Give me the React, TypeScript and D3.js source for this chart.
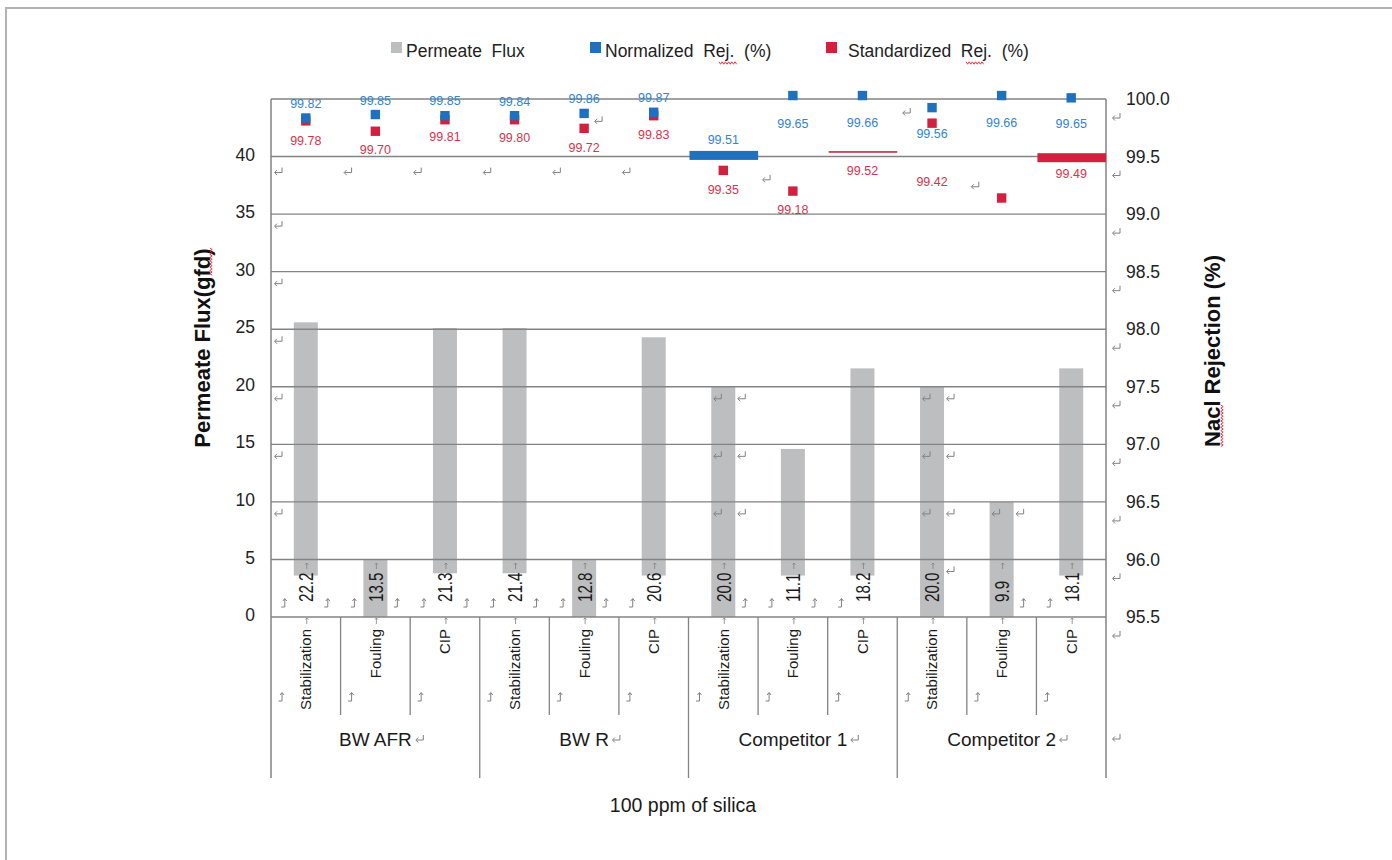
import React from 'react';
import * as d3 from 'd3';

// ---------- data ----------
const groups = ['BW AFR', 'BW R', 'Competitor 1', 'Competitor 2'];
const stages = ['Stabilization', 'Fouling', 'CIP'];
const fluxLabels = [22.2, 13.5, 21.3, 21.4, 12.8, 20.6, 20.0, 11.1, 18.2, 20.0, 9.9, 18.1];
// extents of the gray bars as they are drawn in the picture (gfd)
const barTop = [25.6, 5.0, 25.1, 25.1, 5.0, 24.3, 20.0, 14.6, 21.6, 20.0, 10.0, 21.6];
const barBase = [3.6, 0, 3.8, 3.8, 0, 3.6, 0, 3.6, 3.6, 0, 0, 3.6];
const normRej = [99.82, 99.85, 99.85, 99.84, 99.86, 99.87, 99.51, 99.65, 99.66, 99.56, 99.66, 99.65];
const stdRej: (number | null)[] = [99.78, 99.7, 99.81, 99.8, 99.72, 99.83, 99.35, 99.18, 99.52, 99.42, null, 99.49];
// where the markers actually sit in the picture (%)
const normMarkerAt = [99.835, 99.865, 99.855, 99.855, 99.875, 99.885, 99.51, 100.03, 100.03, 99.925, 100.03, 100.01];
const stdMarkerAt = [99.81, 99.72, 99.82, 99.82, 99.745, 99.855, 99.38, 99.2, 99.54, 99.79, 99.14, 99.49];
const normShape = ['sq', 'sq', 'sq', 'sq', 'sq', 'sq', 'bar', 'sq', 'sq', 'sq', 'sq', 'sq'];
const stdShape = ['sq', 'sq', 'sq', 'sq', 'sq', 'sq', 'sq', 'sq', 'line', 'sq', 'sq', 'bar'];
const fluxTicks = [0, 5, 10, 15, 20, 25, 30, 35, 40];
const rejTicks = [95.5, 96, 96.5, 97, 97.5, 98, 98.5, 99, 99.5, 100];
const legendItems = ['Permeate  Flux', 'Normalized  Rej.  (%)', 'Standardized  Rej.  (%)'];
const xTitle = '100 ppm of silica';
const yLeftTitle = 'Permeate Flux(gfd)';
const yRightTitle = 'Nacl Rejection (%)';

// ---------- style ----------
const GRAY = '#bdbec0';
const BLUE = '#1f70bf';
const RED = '#d2203e';
const BLUE_TXT = '#3184d2';
const RED_TXT = '#d9324c';
const LINE = '#838383';
const MARK = '#808080';
const FONT = "'Liberation Sans', Arial, sans-serif";

const L = 271, R = 1106, T = 99, B = 617;

const x = d3.scaleBand<number>().domain(d3.range(12)).range([L, R]).padding(0);
const yL = d3.scaleLinear().domain([0, 45]).range([B, T]);
const yR = d3.scaleLinear().domain([95.5, 100]).range([B, T]);
const bw = x.bandwidth();
const cx = (i: number) => (x(i) as number) + bw / 2;

const ret = (px: number, py: number, k: string) => (
  <path key={k} d={`M${px + 4},${py - 4}V${py + 1}H${px - 3}M${px - 1},${py - 1.5}L${px - 3.5},${py + 1}L${px - 1},${py + 3.5}`}
    fill="none" stroke={MARK} strokeWidth={1} />
);
const hook = (px: number, py: number, k: string) => (
  <path key={k} d={`M${px - 3.5},${py + 4}H${px}V${py - 4}M${px - 2},${py - 2}L${px},${py - 4.5}L${px + 2},${py - 2}`}
    fill="none" stroke={MARK} strokeWidth={1} />
);
const tiny = (px: number, py: number, k: string) => (
  <path key={k} d={`M${px},${py + 3}V${py - 3}M${px - 1.5},${py - 1.5}L${px},${py - 3}L${px + 1.5},${py - 1.5}`}
    fill="none" stroke={MARK} strokeWidth={0.8} />
);
const wavy = (x0: number, y0: number, len: number, vertical: boolean, k: string) => {
  const pts: string[] = [];
  for (let s = 0, j = 0; s <= len; s += 1.6, j++) {
    const off = j % 2 === 0 ? -1.2 : 1.2;
    pts.push(vertical ? `${x0 + off},${y0 + s}` : `${x0 + s},${y0 + off}`);
  }
  return <polyline key={k} points={pts.join(' ')} fill="none" stroke="#e8202a" strokeWidth={0.9} />;
};

const groupFont = 19;
const approxWidth = (s: string, fs: number) => {
  const w: Record<string, number> = { B: .667, W: .944, ' ': .278, A: .667, F: .611, R: .722, C: .722, o: .556, m: .833, p: .556, e: .556, t: .278, i: .222, r: .333, '1': .556, '2': .556 };
  return s.split('').reduce((a, c) => a + (w[c] ?? .556), 0) * fs;
};

export default function App() {
  const marks: React.ReactNode[] = [];
  [10, 15, 20, 25, 30, 35].forEach((t) => marks.push(ret(L + 7, yL(t) + 11, `lc${t}`)));
  d3.range(6).forEach((i) => marks.push(ret((x(i) as number) + 7, yL(40) + 15, `r40${i}`)));
  rejTicks.forEach((t) => marks.push(ret(R + 10, yR(t) + 18, `rc${t}`)));
  marks.push(ret(R + 10, 738, 'rcg'));
  [6, 9, 10].forEach((i) => {
    [10, 15, 20].filter((t) => t <= barTop[i] + 0.5).forEach((t) => {
      marks.push(ret(cx(i) - 6, yL(t) + 11, `cb${i}${t}a`));
      marks.push(ret(cx(i) + 18, yL(t) + 11, `cb${i}${t}b`));
    });
  });
  marks.push(ret(cx(9) + 18, yL(5) + 11, 'cb9x'));
  marks.push(ret((x(7) as number) + 8, yR(stdRej[6] as number) + 5, 'e1'));
  marks.push(ret((x(10) as number) + 8, yR(stdRej[9] as number) + 20, 'e2'));
  marks.push(ret((x(9) as number) + 9, yR(100) + 13, 'e3'));
  marks.push(ret(cx(4) + 14, yR(stdMarkerAt[4]) - 8, 'e4'));
  const hookLeft = [1, 1, 1, 1, 1, 1, 0, 1, 1, 0, 0, 1];
  const hookRight = [1, 1, 1, 1, 1, 0, 1, 1, 0, 0, 1, 0];
  d3.range(12).forEach((i) => {
    if (hookLeft[i]) marks.push(hook(cx(i) - 21, 603, `hl${i}`));
    if (hookRight[i]) marks.push(hook(cx(i) + 22, 603, `hr${i}`));
    marks.push(hook((x(i) as number) + 11, 697, `hs${i}`));
    marks.push(tiny(cx(i) + 1, 566, `ta${i}`));
    marks.push(tiny(cx(i) + 1, 621, `tb${i}`));
  });

  const legendX = [391, 590, 826];
  const gcx = (k: number) => ((x(k * 3) as number) + (x(k * 3 + 2) as number) + bw) / 2;

  return (
    <svg width={1392} height={860} style={{ position: 'absolute', left: 0, top: 0, background: '#fff' }}
      fontFamily={FONT}>
      <rect x={6} y={8} width={1500} height={1000} fill="none" stroke="#b3b3b3" strokeWidth={2} />

      {/* legend */}
      {legendItems.map((t, k) => (
        <g key={t}>
          <rect x={legendX[k]} y={42} width={11} height={11} fill={[GRAY, BLUE, RED][k]} />
          <text x={legendX[k] + (k === 2 ? 22 : 15)} y={57} fontSize={17.5} fill="#222" style={{ whiteSpace: 'pre' }}>{t}</text>
        </g>
      ))}
      {wavy(719, 63, 19, false, 'w1')}
      {wavy(966, 63, 19, false, 'w2')}

      {/* bars */}
      {fluxLabels.map((_, i) => (
        <rect key={`b${i}`} x={cx(i) - 12} y={yL(barTop[i])} width={24}
          height={yL(barBase[i]) - yL(barTop[i])} fill={GRAY} />
      ))}

      {/* gridlines and frame */}
      {fluxTicks.filter((t) => t > 0).map((t) => (
        <line key={`g${t}`} x1={L} x2={R} y1={yL(t)} y2={yL(t)} stroke={LINE} strokeWidth={1.4} />
      ))}
      <line x1={L} x2={R} y1={T} y2={T} stroke={LINE} strokeWidth={1.5} />
      <line x1={L} x2={R} y1={B} y2={B} stroke={LINE} strokeWidth={1.5} />
      <line x1={L} x2={L} y1={T} y2={778} stroke={LINE} strokeWidth={1.5} />
      <line x1={R} x2={R} y1={T} y2={778} stroke={LINE} strokeWidth={1.5} />
      {d3.range(1, 12).map((i) => (
        <line key={`s${i}`} x1={x(i)} x2={x(i)} y1={B} y2={i % 3 === 0 ? 778 : 715} stroke={LINE} strokeWidth={1.3} />
      ))}

      {marks}

      {/* flux labels */}
      {fluxLabels.map((v, i) => (
        <text key={`fl${i}`} transform={`translate(${cx(i)},602) rotate(-90) scale(0.74,1)`} dy="0.36em"
          fontSize={20.5} fill="#1a1a1a">{v.toFixed(1)}</text>
      ))}

      {/* standardized markers */}
      {stdMarkerAt.map((v, i) => {
        const yy = yR(v);
        if (stdShape[i] === 'bar') return <rect key={`sm${i}`} x={(x(i) as number) + 1} y={yy - 4.5} width={bw - 1} height={9} fill={RED} />;
        if (stdShape[i] === 'line') return <rect key={`sm${i}`} x={(x(i) as number) + 1} y={yy - 0.8} width={bw - 1} height={1.6} fill={RED} />;
        return <rect key={`sm${i}`} x={cx(i) - 4.7} y={yy - 4.7} width={9.4} height={9.4} fill={RED} />;
      })}
      {/* normalized markers */}
      {normMarkerAt.map((v, i) => {
        const yy = yR(v);
        if (normShape[i] === 'bar') return <rect key={`nm${i}`} x={(x(i) as number) + 1} y={yy - 4.5} width={bw - 1} height={9} fill={BLUE} />;
        return <rect key={`nm${i}`} x={cx(i) - 4.7} y={yy - 4.7} width={9.4} height={9.4} fill={BLUE} />;
      })}

      {/* rejection labels */}
      {normRej.map((v, i) => (
        <text key={`nl${i}`} x={cx(i)} y={yR(v) - 16} dy="0.35em" textAnchor="middle" fontSize={12.5} fill={BLUE_TXT}>{v.toFixed(2)}</text>
      ))}
      {stdRej.map((v, i) => v == null ? null : (
        <text key={`sl${i}`} x={cx(i)} y={yR(v) + 16} dy="0.35em" textAnchor="middle" fontSize={12.5} fill={RED_TXT}>{v.toFixed(2)}</text>
      ))}

      {/* axis ticks */}
      {fluxTicks.map((t) => (
        <text key={`lt${t}`} x={255} y={yL(t) - 2} dy="0.35em" textAnchor="end" fontSize={17.5} fill="#222">{d3.format('d')(t)}</text>
      ))}
      {rejTicks.map((t) => (
        <text key={`rt${t}`} x={1126} y={yR(t)} dy="0.35em" textAnchor="start" fontSize={17.5} fill="#222">{d3.format('.1f')(t)}</text>
      ))}

      {/* category labels */}
      {d3.range(12).map((i) => (
        <text key={`cl${i}`} transform={`translate(${cx(i)},629) rotate(-90)`} dy="0.36em" textAnchor="end"
          fontSize={15} fill="#1a1a1a">{stages[i % 3]}</text>
      ))}
      {groups.map((g, k) => (
        <text key={g} x={gcx(k)} y={746} textAnchor="middle" fontSize={groupFont} fill="#1a1a1a">{g}</text>
      ))}
      {groups.map((g, k) => ret(gcx(k) + approxWidth(g, groupFont) / 2 + 7, 739, `gm${k}`))}

      <text x={683} y={812} textAnchor="middle" fontSize={19.5} fill="#1a1a1a">{xTitle}</text>

      {/* axis titles */}
      <text transform="translate(202,348) rotate(-90)" dy="0.36em" textAnchor="middle" fontSize={22} fontWeight="bold" fill="#111">{yLeftTitle}</text>
      {wavy(211, 248, 28, true, 'w3')}
      <text transform="translate(1212,351) rotate(-90)" dy="0.36em" textAnchor="middle" fontSize={22} fontWeight="bold" fill="#111">{yRightTitle}</text>
      {wavy(1222, 405, 43, true, 'w4')}
    </svg>
  );
}
